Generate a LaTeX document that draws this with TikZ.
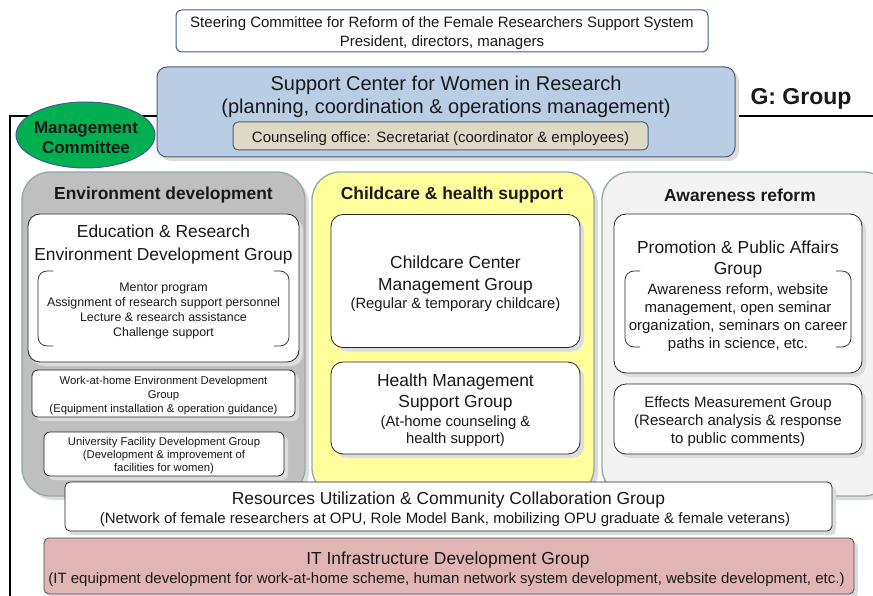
\documentclass[tikz,border=0pt]{standalone}
\usepackage{fontspec}
\setmainfont{Liberation Sans}
\usetikzlibrary{shapes.geometric,shadows}
\definecolor{stc}{HTML}{3B5C8C}
\definecolor{bluef}{HTML}{B9CDE5}
\definecolor{bluec}{HTML}{4D5D73}
\definecolor{tanf}{HTML}{DDD9C4}
\definecolor{greenf}{HTML}{00B050}
\definecolor{panelc}{HTML}{93A9A9}
\definecolor{grayf}{HTML}{BFBFBF}
\definecolor{yellowf}{HTML}{FFFF9C}
\definecolor{lightf}{HTML}{F2F2F2}
\definecolor{itf}{HTML}{E1B5B5}
\definecolor{shc}{HTML}{DCDCDC}
\tikzset{
  shd/.style={drop shadow={shadow xshift=4pt,shadow yshift=-4pt,fill=shc,opacity=1}},
  panel/.style={draw=panelc,line width=1.3pt,rounded corners=28pt,shd},
  gbox/.style={draw=black!85,fill=white,rounded corners=12pt,line width=0.8pt,shd},
  sbox/.style={draw=black!85,fill=white,rounded corners=6pt,line width=0.8pt,shd},
  txt/.style={inner sep=0pt,align=center,text=black!90,yshift=-1.8pt},
  brk/.style={draw=black!85,line width=0.7pt,rounded corners=9pt},
}
\newcommand{\fs}[2]{\fontsize{#1}{#2}\selectfont}
\begin{document}
\begin{tikzpicture}[x=1pt,y=-1pt]
\useasboundingbox (0,0) rectangle (873,596);
% frame
\coordinate (fr1) at (10,596);
\coordinate (fr2) at (10,116);
\coordinate (fr3) at (873,116);
\draw[line width=1.2pt] (fr1) -- (fr2) -- (fr3);
% steering
\node[draw=stc,line width=1pt,rounded corners=6pt,fill=white,minimum width=532,minimum height=42] (steer) at (442,31) {};
\node[txt,font=\fs{15}{19}] (steertxt) at (442,31.5) {Steering Committee for Reform of the Female Researchers Support System\\President, directors, managers};
% support center
\node[draw=bluec,fill=bluef,line width=1pt,rounded corners=10pt,minimum width=578,minimum height=90,shd] (sc) at (446,112) {};
\node[txt,font=\fs{20}{23}] (sctxt) at (446,95.5) {Support Center for Women in Research\\(planning, coordination \& operations management)};
\node[draw=bluec,fill=tanf,line width=1pt,rounded corners=5pt,minimum width=415,minimum height=28] (cons) at (440.5,136) {};
\node[txt,font=\fs{15}{15}] (constxt) at (440.5,136.5) {Counseling office: Secretariat (coordinator \& employees)};
% G: Group
\node[txt,font=\fs{23}{24}\bfseries] (gg) at (801,97) {G: Group};
% management committee
\node[ellipse,draw=stc,fill=greenf,line width=1pt,minimum width=139,minimum height=66,inner sep=0pt] (mc) at (85.5,135) {};
\node[txt,font=\fs{17}{20}\bfseries] (mctxt) at (86,135.5) {Management\\Committee};
% panels
\node[panel,fill=grayf,minimum width=283,minimum height=324] (p1) at (163.5,334) {};
\node[panel,fill=yellowf,minimum width=282,minimum height=324] (p2) at (453,334) {};
\node[panel,fill=lightf,minimum width=290,minimum height=324] (p3) at (747,334) {};
\node[txt,font=\fs{17.4}{18}\bfseries] (h1) at (163.5,193) {Environment development};
\node[txt,font=\fs{17.4}{18}\bfseries] (h2) at (452,193) {Childcare \& health support};
\node[txt,font=\fs{17.4}{18}\bfseries] (h3) at (740,193) {Awareness reform};
% education & research
\node[gbox,minimum width=271,minimum height=148] (edu) at (163.5,288) {};
\node[txt,font=\fs{17.4}{23}] (edut) at (163.5,242.5) {Education \& Research\\Environment Development Group};
\coordinate (b1a) at (53,271); \coordinate (b1b) at (38,271); \coordinate (b1c) at (38,346); \coordinate (b1d) at (53,346);
\draw[brk] (b1a) -- (b1b) -- (b1c) -- (b1d);
\coordinate (b2a) at (274,271); \coordinate (b2b) at (289,271); \coordinate (b2c) at (289,346); \coordinate (b2d) at (274,346);
\draw[brk] (b2a) -- (b2b) -- (b2c) -- (b2d);
\node[txt,font=\fs{12.4}{15}] (edul) at (163.5,309.5) {Mentor program\\Assignment of research support personnel\\Lecture \& research assistance\\Challenge support};
% work-at-home
\node[sbox,minimum width=263,minimum height=47] (wah) at (163.5,393.5) {};
\node[txt,font=\fs{11.3}{14}] (waht) at (163.5,394) {Work-at-home Environment Development\\Group\\(Equipment installation \& operation guidance)};
% university facility
\node[sbox,minimum width=240,minimum height=44] (uni) at (164,454) {};
\node[txt,font=\fs{11.3}{13}] (unit) at (164,454) {University Facility Development Group\\(Development \& improvement of\\facilities for women)};
% childcare center
\node[gbox,minimum width=249,minimum height=133] (cc) at (455.5,281) {};
\node[txt,font=\fs{17.4}{22}] (cct) at (455.5,273) {Childcare Center\\Management Group};
\node[txt,font=\fs{14.8}{15}] (ccs) at (455.5,303) {(Regular \& temporary childcare)};
% health
\node[gbox,minimum width=249,minimum height=92] (hm) at (455.5,408) {};
\node[txt,font=\fs{17.4}{21}] (hmt) at (455.5,390.5) {Health Management\\Support Group};
\node[txt,font=\fs{14.8}{17}] (hms) at (455.5,429.5) {(At-home counseling \&\\health support)};
% promotion
\node[gbox,minimum width=248,minimum height=159] (pr) at (738,293.5) {};
\node[txt,font=\fs{17.4}{21}] (prt) at (738,257.5) {Promotion \& Public Affairs\\Group};
\coordinate (b3a) at (640,271); \coordinate (b3b) at (625,271); \coordinate (b3c) at (625,347); \coordinate (b3d) at (640,347);
\draw[brk] (b3a) -- (b3b) -- (b3c) -- (b3d);
\coordinate (b4a) at (836,271); \coordinate (b4b) at (851,271); \coordinate (b4c) at (851,347); \coordinate (b4d) at (836,347);
\draw[brk] (b4a) -- (b4b) -- (b4c) -- (b4d);
\node[txt,font=\fs{15}{18}] (prl) at (738,315.5) {Awareness reform, website\\management, open seminar\\organization, seminars on career\\paths in science, etc.};
% effects
\node[gbox,minimum width=248,minimum height=70] (em) at (738,419) {};
\node[txt,font=\fs{15}{18}] (emt) at (738,419.5) {Effects Measurement Group\\(Research analysis \& response\\to public comments)};
% resources
\node[draw=black!85,fill=white,rounded corners=5pt,line width=0.8pt,minimum width=767,minimum height=49,shd] (res) at (448.5,506.5) {};
\node[txt,font=\fs{17.4}{15}] (rest) at (448.5,498) {Resources Utilization \& Community Collaboration Group};
\node[txt,font=\fs{15}{15}] (ress) at (445,518) {(Network of female researchers at OPU, Role Model Bank, mobilizing OPU graduate \& female veterans)};
% IT
\node[draw=black!70,fill=itf,rounded corners=5pt,line width=0.8pt,minimum width=810,minimum height=56,shd] (it) at (449,566) {};
\node[txt,font=\fs{17.4}{15}] (itt) at (448,558) {IT Infrastructure Development Group};
\node[txt,font=\fs{15}{15}] (its) at (446.5,578) {(IT equipment development for work-at-home scheme, human network system development, website development, etc.)};
\end{tikzpicture}
\end{document}
